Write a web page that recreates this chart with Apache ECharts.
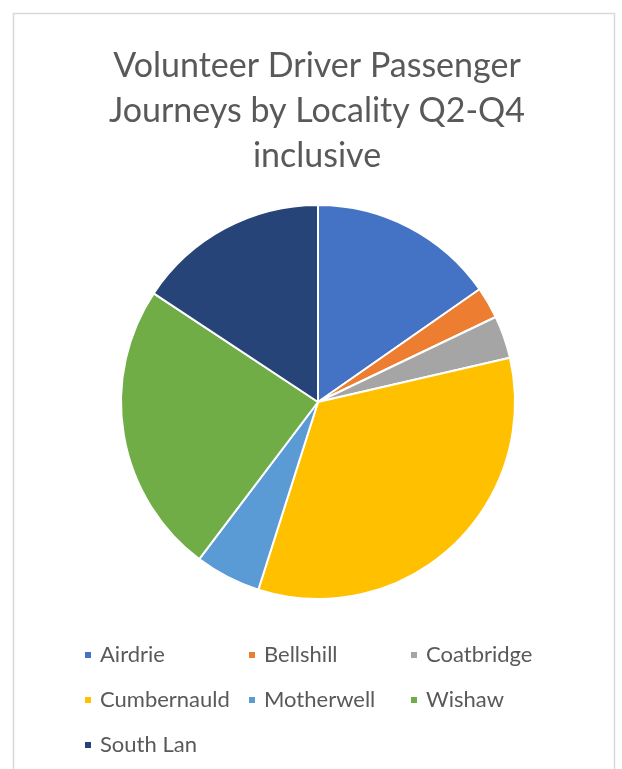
<!DOCTYPE html>
<html>
<head>
<meta charset="utf-8">
<script src="https://cdn.jsdelivr.net/npm/echarts@6/dist/echarts.min.js"></script>
<style>
  html, body { margin: 0; padding: 0; background: #fff; }
  #chart { width: 622px; height: 769px; }
</style>
</head>
<body>
<div id="chart"></div>
<script>
// Passenger journeys share by locality (percent of total)
const localities = ['Airdrie', 'Bellshill', 'Coatbridge', 'Cumbernauld', 'Motherwell', 'Wishaw', 'South Lan'];
const journeyShare = [15.3, 2.6, 3.5, 33.5, 5.4, 24.0, 15.7];
const sliceColors = ['#4472C4', '#ED7D31', '#A5A5A5', '#FFC000', '#5B9BD5', '#70AD47', '#264478'];
const chartTitle = 'Volunteer Driver Passenger\nJourneys by Locality Q2-Q4\ninclusive';

const FONT = 'Lato';
const TEXT_COLOR = '#595959';

const chart = echarts.init(document.getElementById('chart'));

// Legend laid out as a three-column grid, one legend block per entry
const legendCols = [83, 247, 409];
const legendRows = [644, 689, 734];
const legends = localities.map((name, i) => ({
  data: [name],
  left: legendCols[i % 3],
  top: legendRows[Math.floor(i / 3)],
  icon: 'rect',
  itemWidth: 8,
  itemHeight: 8,
  itemGap: 0,
  padding: 0,
  selectedMode: false,
  textStyle: { fontFamily: FONT, fontSize: 22, color: TEXT_COLOR, padding: [0, 0, 0, 3] }
}));

chart.setOption({
  animation: false,
  backgroundColor: '#fff',
  graphic: [{
    type: 'rect',
    shape: { x: 13.5, y: 13.5, width: 601, height: 770 },
    style: { fill: 'none', stroke: '#d9d9d9', lineWidth: 1.5 },
    silent: true
  }],
  title: {
    text: chartTitle,
    left: 312,
    textAlign: 'center',
    top: 39,
    textStyle: { fontFamily: FONT, fontSize: 34, fontWeight: 'normal', color: TEXT_COLOR, lineHeight: 45 }
  },
  legend: legends,
  color: sliceColors,
  series: [{
    type: 'pie',
    center: [318, 402],
    radius: [0, 197],
    startAngle: 90,
    clockwise: true,
    label: { show: false },
    labelLine: { show: false },
    itemStyle: { borderColor: '#fff', borderWidth: 2 },
    emphasis: { disabled: true },
    data: localities.map((name, i) => ({ name, value: journeyShare[i] }))
  }]
});
</script>
</body>
</html>
